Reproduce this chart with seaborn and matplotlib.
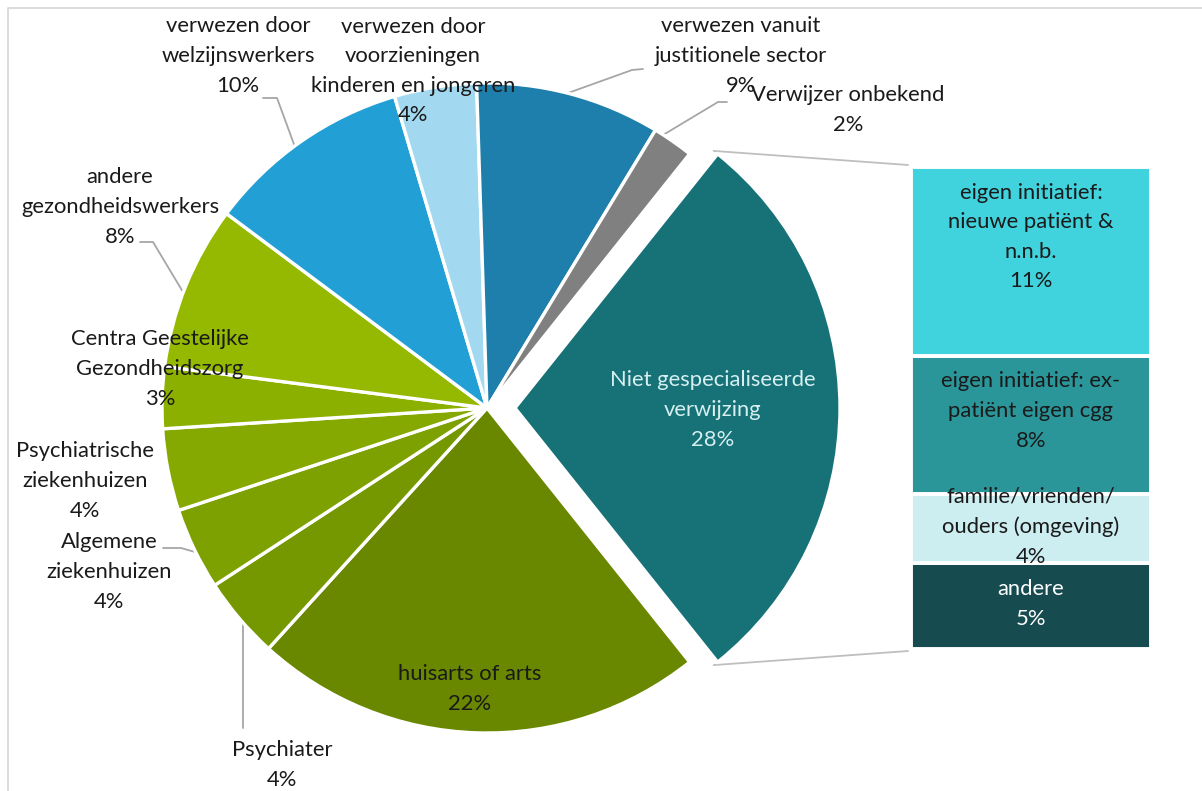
import numpy as np
import matplotlib
matplotlib.use("Agg")
import matplotlib.pyplot as plt
import seaborn as sns

sns.set_theme(style="white")
plt.rcParams["font.family"] = ["Lato", "DejaVu Sans"]

# ---- data -------------------------------------------------------------
pie_labels = [
    "Niet gespecialiseerde\nverwijzing",
    "huisarts of arts",
    "Psychiater",
    "Algemene\nziekenhuizen",
    "Psychiatrische\nziekenhuizen",
    "Centra Geestelijke\nGezondheidszorg",
    "andere\ngezondheidswerkers",
    "verwezen door\nwelzijnswerkers",
    "verwezen door\nvoorzieningen\nkinderen en jongeren",
    "verwezen vanuit\njustitionele sector",
    "Verwijzer onbekend",
]
pie_values = [28, 22, 4, 4, 4, 3, 8, 10, 4, 9, 2]
pie_colors = ["#167277", "#6A8700", "#759800", "#7DA100", "#85A900",
              "#8CB000", "#95B800", "#22A0D6", "#A3D9F0", "#1E7FAC", "#808080"]

bar_labels = ["eigen initiatief:\nnieuwe patiënt &\nn.n.b.",
              "eigen initiatief: ex-\npatiënt eigen cgg",
              "familie/vrienden/\nouders (omgeving)",
              "andere"]
bar_values = [11, 8, 4, 5]
bar_colors = ["#41D3DD", "#2B9699", "#CCEEF1", "#164B4F"]

# ---- figure in pixel space --------------------------------------------
W, H = 1202, 791
fig = plt.figure(figsize=(W / 100, H / 100), dpi=100)
ax = fig.add_axes([0, 0, 1, 1])

def Y(py):
    return H - py

cx, cy, R = 487, Y(408), 325
total = sum(pie_values)
span0 = pie_values[0] / total * 360
offset = 28  # distance the first slice is pulled out
explode = [offset] + [0] * (len(pie_values) - 1)

wedges, _ = ax.pie(pie_values, colors=pie_colors, startangle=span0 / 2,
                   counterclock=False, radius=R, center=(cx, cy),
                   explode=explode,
                   wedgeprops=dict(edgecolor="white", linewidth=2.4))

ax.set_xlim(0, W)
ax.set_ylim(0, H)
ax.set_aspect("equal")
ax.axis("off")

# ---- stacked bar for the exploded slice --------------------------------
bx0, bx1 = 911, 1151
btop, bbot = Y(167), Y(649)
unit = (btop - bbot) / sum(bar_values)
bottom = bbot
for i in range(len(bar_values))[::-1]:
    h = bar_values[i] * unit
    ax.bar((bx0 + bx1) / 2, h, width=bx1 - bx0, bottom=bottom,
           color=bar_colors[i], edgecolor="white", linewidth=2.8)
    bottom += h

# connectors between exploded slice and bar
ex_c = np.array([cx + offset, cy])
for ang, by in [(span0 / 2, btop + 2), (-span0 / 2, bbot - 2)]:
    px = ex_c[0] + R * np.cos(np.radians(ang))
    py = ex_c[1] + R * np.sin(np.radians(ang))
    ax.plot([px - 4, bx0 - 3], [py + (3 if ang > 0 else -3), by],
            color="#BFBFBF", lw=1.3, zorder=0)

FS = 15.8
txt = dict(ha="center", va="center", fontsize=FS, linespacing=1.6)

def label(i, x, py, color="#1a1a1a"):
    ax.text(x, Y(py), f"{pie_labels[i]}\n{pie_values[i]}%", color=color, **txt)

label(0, 713, 410, color="#D6EFF0")
label(1, 470, 689)
label(2, 282, 765)
label(3, 109, 572)
label(4, 85, 481)
label(5, 160, 369)
label(6, 120, 207)
label(7, 238, 56)
label(8, 413, 71)
label(9, 741, 56)
label(10, 848, 110)

bar_text_y = [237, 411, 527, 604]
for i in range(len(bar_values)):
    ax.text((bx0 + bx1) / 2, Y(bar_text_y[i]),
            f"{bar_labels[i]}\n{bar_values[i]}%",
            color="white" if i == 3 else "#1a1a1a", **txt)

# leader lines
lc = dict(color="#A6A6A6", lw=1.3, zorder=0.5)
leaders = [
    [(263, 98), (277, 98), (295, 147)],
    [(140, 242), (153, 242), (183, 292)],
    [(643, 69), (632, 70), (568, 93)],
    [(727, 102), (718, 102), (658, 138)],
    [(163, 548), (181, 548), (195, 552)],
    [(243, 623), (243, 728)],
]
for pts in leaders:
    ax.plot([p[0] for p in pts], [Y(p[1]) for p in pts], **lc)

# chart area frame
ax.plot([8, 8, W + 5], [-5, Y(8), Y(8)], color="#D9D9D9", lw=1.3,
        clip_on=False)

fig.savefig("out.png", dpi=100)
